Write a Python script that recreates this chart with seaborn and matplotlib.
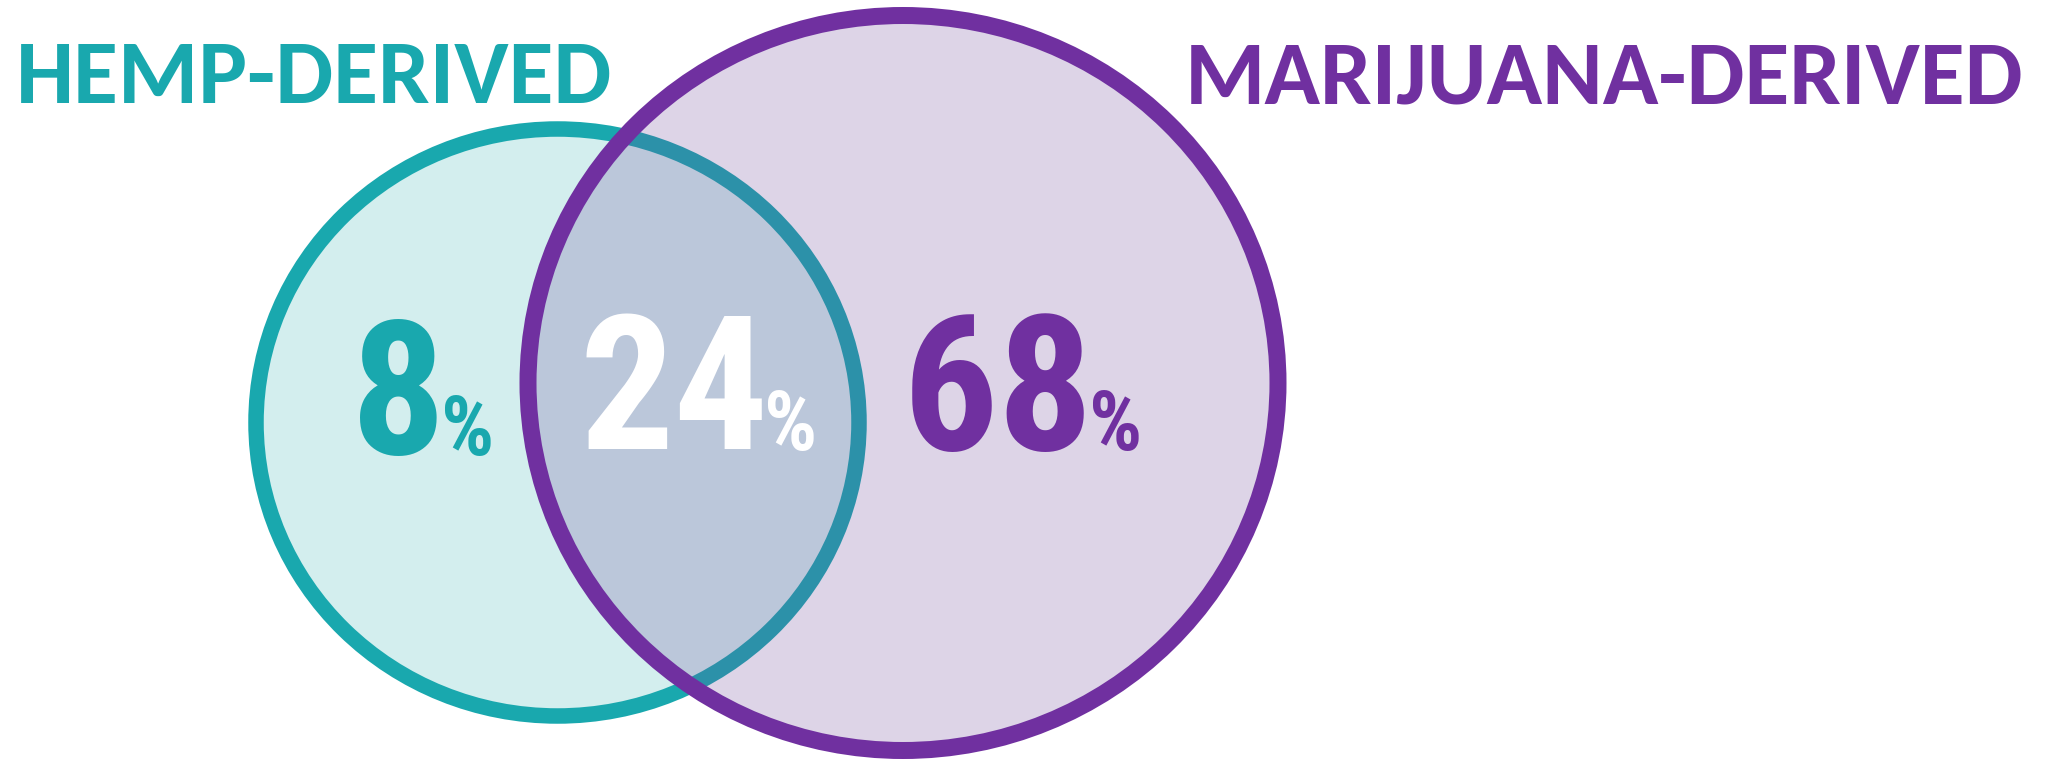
import matplotlib
matplotlib.use('Agg')
import matplotlib.pyplot as plt
from matplotlib.patches import Ellipse
from matplotlib import font_manager as fm
from matplotlib.textpath import TextPath
import seaborn as sns

# two sources and the three venn regions
groups = ['HEMP-DERIVED', 'MARIJUANA-DERIVED']
regions = ['hemp only', 'both', 'marijuana only']
shares = [8, 24, 68]

TEAL = '#19A8AE'
PURPLE = '#7030A0'
DPI = 100

# ink boxes (px, y down): left, right, top, bottom
label_boxes = [(21, 615, 44, 103), (1181, 2022, 45, 104)]
num_boxes = [(357, 430, 319, 456), (589, 752, 314, 449), (915, 1073, 314, 452)]
pct_boxes = [(438, 493, 395, 456), (758, 811, 390, 451), (1082, 1136, 390, 451)]


def ink(s, fp, size):
    # ink extents in px for text s at fontsize size
    bb = TextPath((0, 0), s, size=size, prop=fp).get_extents()
    k = DPI / 72
    return bb.x0 * k, bb.x1 * k, bb.y0 * k, bb.y1 * k


def weight_num(w):
    if isinstance(w, str):
        return fm.weight_dict.get(w, 400)
    return w


def pick_number_font():
    # narrowest-looking bold sans, aiming at the arial narrow bold look
    ok_names = ['Liberation Sans Narrow', 'Liberation Sans', 'Roboto', 'Roboto Condensed',
                'Noto Sans', 'Open Sans', 'Lato', 'Inter', 'DejaVu Sans']
    target = 73 / 137
    best, best_score = None, 1e9
    for f in fm.fontManager.ttflist:
        if f.name not in ok_names or f.style != 'normal':
            continue
        if not 600 <= weight_num(f.weight) <= 800:
            continue
        fp = fm.FontProperties(fname=f.fname)
        try:
            x0, x1, y0, y1 = ink('8', fp, 72)
        except Exception:
            continue
        score = abs((x1 - x0) / (y1 - y0) - target)
        if 'Liberation' not in f.name:
            score += 0.03
        if score < best_score:
            best, best_score = fp, score
    return best or fm.FontProperties(family='DejaVu Sans', weight='bold')


def pick_family(cands):
    names = {f.name for f in fm.fontManager.ttflist}
    for c in cands:
        if c in names:
            return c
    return 'DejaVu Sans'


def size_for_height(s, fp, h):
    x0, x1, y0, y1 = ink(s, fp, 72)
    return 72 * h / (y1 - y0)


def size_for_width(s, fp, w):
    x0, x1, y0, y1 = ink(s, fp, 72)
    return 72 * w / (x1 - x0)


def put(ax, s, fp, size, color, left, bottom):
    x0, x1, y0, y1 = ink(s, fp, size)
    ax.text(left - x0, bottom + y0, s, fontproperties=fp, fontsize=size, color=color,
            ha='left', va='baseline', zorder=3)
    return x1 - x0


sns.set_theme(style='white')
label_fp = fm.FontProperties(family=pick_family(['Carlito', 'Lato', 'Open Sans', 'DejaVu Sans']),
                             weight='bold')
num_fp = pick_number_font()

fig = plt.figure(figsize=(20.47, 7.59), dpi=DPI)
ax = fig.add_axes([0, 0, 1, 1])
ax.set_xlim(0, 2047)
ax.set_ylim(759, 0)
ax.set_axis_off()

# hemp circle, then marijuana circle with see-through fill on top
ax.add_patch(Ellipse((557.5, 422.5), 603, 587, facecolor='#D3EEEE',
                     edgecolor=TEAL, lw=15.5 * 0.72, zorder=1))
ax.add_patch(Ellipse((903, 383), 750, 735, facecolor=(110 / 255, 72 / 255, 155 / 255, 0.23),
                     edgecolor=PURPLE, lw=17 * 0.72, zorder=2))

# headings: one size for both, between width fit and height fit
sizes = []
for s, (l, r, t, b) in zip(groups, label_boxes):
    sizes.append((size_for_width(s, label_fp, r - l) * size_for_height('H', label_fp, b - t)) ** 0.5)
lab_size = sum(sizes) / len(sizes)
l, r, t, b = label_boxes[0]
put(ax, groups[0], label_fp, lab_size, TEAL, l, b)
l, r, t, b = label_boxes[1]
x0, x1, y0, y1 = ink(groups[1], label_fp, lab_size)
put(ax, groups[1], label_fp, lab_size, PURPLE, r - (x1 - x0), b)

# big percentages, each group centred on where the reference has it
num_colors = [TEAL, 'white', PURPLE]
for i, v in enumerate(shares):
    nl, nr, nt, nb = num_boxes[i]
    pl, pr, pt, pb = pct_boxes[i]
    n_size = size_for_height(str(v), num_fp, nb - nt)
    p_size = size_for_height('%', num_fp, pb - pt)
    nx0, nx1, _, _ = ink(str(v), num_fp, n_size)
    px0, px1, _, _ = ink('%', num_fp, p_size)
    gap = pl - nr
    total = (nx1 - nx0) + gap + (px1 - px0)
    start = (nl + pr) / 2 - total / 2
    put(ax, str(v), num_fp, n_size, num_colors[i], start, nb)
    put(ax, '%', num_fp, p_size, num_colors[i], start + (nx1 - nx0) + gap, pb)

fig.savefig('out.png', dpi=DPI)
